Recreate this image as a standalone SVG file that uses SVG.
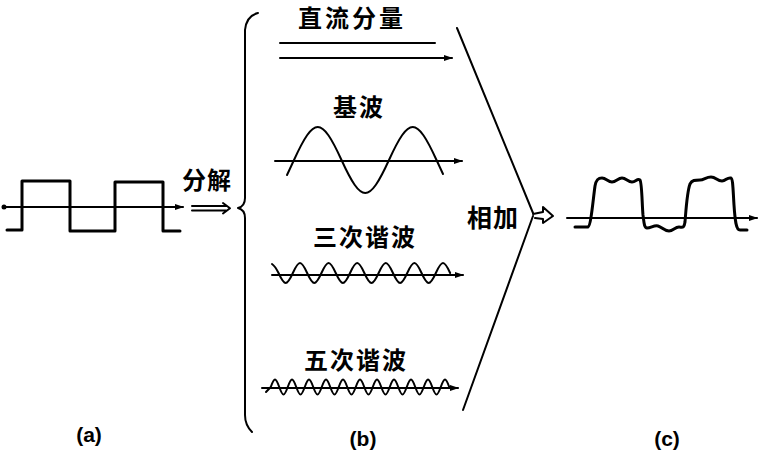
<svg xmlns="http://www.w3.org/2000/svg" width="764" height="451" viewBox="0 0 764 451">
<style>
.ln{stroke:#000;fill:none;stroke-width:2;stroke-linejoin:round;stroke-linecap:round}
.thick{stroke-width:3}
.cjk{font-family:"Noto Sans CJK SC","Noto Sans",sans-serif;font-weight:bold;fill:#000;text-anchor:middle}
.lbl{font-family:"Liberation Sans",Arial,sans-serif;font-weight:bold;font-size:21px;fill:#000;text-anchor:middle}
</style>
<defs>
<marker id="ah" markerWidth="9" markerHeight="6" refX="8" refY="3" orient="auto" markerUnits="userSpaceOnUse">
<path d="M0,0 L9,3 L0,6 z" fill="#000"/>
</marker>
</defs>
<rect width="764" height="451" fill="#fff"/>

<g id="wave-a">
<circle cx="4" cy="207" r="2.5" fill="#000"/>
<path class="ln" d="M3,207 L183,207" marker-end="url(#ah)"/>
<path class="ln thick" d="M7,230 L22,230 L22,181 L70,181 L70,231 L115,231 L115,182 L163,182 L163,231 L180,231"/>
<text class="lbl" x="89" y="442">(a)</text>
</g>

<g id="decompose">
<text class="cjk" x="207" y="189" font-size="24" letter-spacing="1">分解</text>
</g>

<g id="dc">
<text class="cjk" x="352" y="27" font-size="24" letter-spacing="3">直流分量</text>
<path class="ln" d="M280,43 L435,43"/>
<path class="ln" d="M280,58 L452,58" marker-end="url(#ah)"/>
</g>

<g id="fundamental">
<text class="cjk" x="359" y="116" font-size="24" letter-spacing="2">基波</text>
<path class="ln" d="M275,161 L462,161" marker-end="url(#ah)"/>
<path class="ln" d="M287,175 L294,160 c20.16,-44 27.34,-44 47.5,0 c20.16,44 27.34,44 47.5,0 c20.16,-44 27.34,-44 47.5,0 L443,174"/>
</g>

<g id="third">
<text class="cjk" x="365" y="246" font-size="24" letter-spacing="2">三次谐波</text>
<path class="ln" d="M272,275 L463,275" marker-end="url(#ah)"/>
<path class="ln" d="M272,264 Q275,266 278.55,273 c6.07,13.33 8.23,13.33 14.3,0 c6.07,-13.33 8.23,-13.33 14.3,0 c6.07,13.33 8.23,13.33 14.3,0 c6.07,-13.33 8.23,-13.33 14.3,0 c6.07,13.33 8.23,13.33 14.3,0 c6.07,-13.33 8.23,-13.33 14.3,0 c6.07,13.33 8.23,13.33 14.3,0 c6.07,-13.33 8.23,-13.33 14.3,0 c6.07,13.33 8.23,13.33 14.3,0 c6.07,-13.33 8.23,-13.33 14.3,0 c6.07,13.33 8.23,13.33 14.3,0 c6.07,-13.33 8.23,-13.33 14.3,0"/>
</g>

<g id="fifth">
<text class="cjk" x="356" y="369" font-size="24" letter-spacing="2">五次谐波</text>
<path class="ln" d="M262,388 L458,388" marker-end="url(#ah)"/>
<path class="ln" d="M266,392 L270.75,387 c3.61,-10 4.89,-10 8.5,0 c3.61,10 4.89,10 8.5,0 c3.61,-10 4.89,-10 8.5,0 c3.61,10 4.89,10 8.5,0 c3.61,-10 4.89,-10 8.5,0 c3.61,10 4.89,10 8.5,0 c3.61,-10 4.89,-10 8.5,0 c3.61,10 4.89,10 8.5,0 c3.61,-10 4.89,-10 8.5,0 c3.61,10 4.89,10 8.5,0 c3.61,-10 4.89,-10 8.5,0 c3.61,10 4.89,10 8.5,0 c3.61,-10 4.89,-10 8.5,0 c3.61,10 4.89,10 8.5,0 c3.61,-10 4.89,-10 8.5,0 c3.61,10 4.89,10 8.5,0 c3.61,-10 4.89,-10 8.5,0 c3.61,10 4.89,10 8.5,0 c3.61,-10 4.89,-10 8.5,0 c3.61,10 4.89,10 8.5,0 c3.61,-10 4.89,-10 8.5,0"/>
<text class="lbl" x="363" y="446">(b)</text>
</g>

<g id="add">
<text class="cjk" x="493" y="227" font-size="25" letter-spacing="1">相加</text>
</g>

<g id="wave-c">
<path class="ln" d="M567,218 L757,218" marker-end="url(#ah)"/>
<path class="ln thick" d="M575,227 L588,227 C591,226 593,200 595,186 C596,180 598,178 602,178 C606,178 608,182 612,182 C616,182 618,178 622,178 C626,178 628,182 632,182 C636,182 637,178 640,180 C642,183 642,205 643,215 C644,222 644,228 647,228 C651,228 654,225 658,226 C662,227 664,231 669,231 C673,231 675,227 679,227 C682,227 684,229 685,222 C686,210 687,192 690,184 C692,180 695,180 700,180 C704,180 706,177 711,177 C716,177 717,181 722,181 C726,181 727,177 731,178 C733,179 733,190 734,205 C735,220 736,230 740,230 L747,230"/>
<text class="lbl" x="667" y="446">(c)</text>
</g>

<g id="connectors">
<path class="ln" d="M192,206 L226,206 M192,210.5 L226,210.5 M223,203 L230,208.2 L223,213.5"/>
<path class="ln" stroke-width="2.5" d="M258,13 C250,15 246,20 245,30 L245,198 C245,204 242,207 238,208 C242,209 245,212 245,218 L245,415 C245,423 248,428 252,432"/>
<path class="ln" d="M457,28 L533,213"/>
<path class="ln" d="M533,216 L463,410"/>
<path class="ln" fill="#fff" d="M533,214 L543,212 L543,207 L553,216 L543,223 L543,219 L535,218"/>
</g>
</svg>
